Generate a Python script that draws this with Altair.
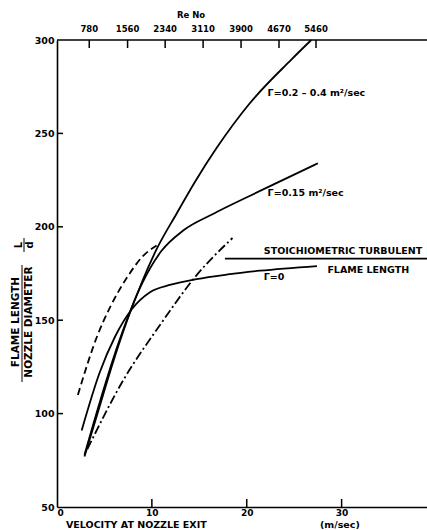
import altair as alt
import pandas as pd

# ---- data ----
g04_v = [2.9, 4.5, 6.0, 7.4, 9.0, 10.5, 12.6, 14.6, 16.8, 20.3, 24.7, 26.8]
g04_L = [77, 104, 129, 150, 171, 188, 207, 224.5, 242, 266, 289.5, 300]

g015_v = [2.9, 4.5, 6.5, 9.0, 11.0, 13.3, 16.5, 20.3, 24.0, 27.5]
g015_L = [78, 106, 138, 170, 187, 198, 207, 216.5, 225.5, 234]

g0_v = [2.6, 4.5, 6.1, 7.9, 9.8, 12.0, 14.7, 18.0, 21.4, 27.4]
g0_L = [91, 122, 141, 156, 165, 169, 172, 174.5, 176.5, 179]

dash_v = [2.2, 4.2, 5.6, 7.4, 9.0, 10.5]
dash_L = [110, 141, 157, 173, 184, 190]

dd_v = [3.2, 7.0, 10.8, 14.7, 18.5]
dd_L = [81, 118, 147, 174, 194]

stoich_v = [17.7, 39.0]
stoich_L = [183, 183]

x_ticks = [0, 10, 20, 30]
y_ticks = [50, 100, 150, 200, 250, 300]
re_labels = ["780", "1560", "2340", "3110", "3900", "4670", "5460"]
re_pos = [3.4, 7.44, 11.4, 15.4, 19.4, 23.4, 27.3]

lab_v = [22.2, 22.2, 21.8, 28.5, 21.8]
lab_L = [271.5, 218, 187, 177, 173]
lab_t = ["Γ=0.2 – 0.4 m²/sec", "Γ=0.15 m²/sec", "STOICHIOMETRIC TURBULENT", "FLAME LENGTH", "Γ=0"]

W, H = 370, 467
FONT = "DejaVu Sans"

def frame(vs, Ls, name):
    return pd.DataFrame({"v": vs, "L": Ls, "s": name})

solid = pd.concat([frame(g04_v, g04_L, "g04"), frame(g015_v, g015_L, "g015"),
                   frame(g0_v, g0_L, "g0"), frame(stoich_v, stoich_L, "st")])
dashed = frame(dash_v, dash_L, "dash")
dashdot = frame(dd_v, dd_L, "dd")

xs = alt.Scale(domain=[0, 39], nice=False, zero=False)
ys = alt.Scale(domain=[50, 300], nice=False, zero=False)

X = alt.X("v:Q", scale=xs, axis=alt.Axis(values=x_ticks, tickSize=0, labelPadding=1,
          domainColor="black", domainWidth=1.6, labelFont=FONT, labelFontSize=9,
          labelFontWeight="bold", labelColor="black", grid=False, title=None))
Y = alt.Y("L:Q", scale=ys, axis=alt.Axis(values=y_ticks, tickSize=0, labelPadding=3,
          domainColor="black", domainWidth=1.6, labelFont=FONT, labelFontSize=9.5,
          labelFontWeight="bold", labelColor="black", grid=False, title=None))

base_solid = alt.Chart(solid).mark_line(color="black", strokeWidth=1.8, interpolate="monotone").encode(
    x=X, y=Y, detail="s:N")
base_dash = alt.Chart(dashed).mark_line(color="black", strokeWidth=1.8, strokeDash=[7, 4],
                                        interpolate="monotone").encode(x="v:Q", y="L:Q")
base_dd = alt.Chart(dashdot).mark_line(color="black", strokeWidth=1.8, strokeDash=[9, 3, 2, 3],
                                       interpolate="monotone").encode(x="v:Q", y="L:Q")

# top border line
top_line = alt.Chart(pd.DataFrame({"L": [300]})).mark_rule(color="black", strokeWidth=1.6).encode(
    y="L:Q", x=alt.value(0), x2=alt.value(W))

# inward ticks
yt = alt.Chart(pd.DataFrame({"L": y_ticks[1:-1]})).mark_rule(color="black", strokeWidth=1.5).encode(
    y="L:Q", x=alt.value(0), x2=alt.value(6))
xt = alt.Chart(pd.DataFrame({"v": x_ticks[1:]})).mark_rule(color="black", strokeWidth=1.5).encode(
    x="v:Q", y=alt.value(H), y2=alt.value(H - 8))
re_df = pd.DataFrame({"v": re_pos, "t": re_labels})
rt = alt.Chart(re_df).mark_rule(color="black", strokeWidth=1.5).encode(
    x="v:Q", y=alt.value(0), y2=alt.value(8))
rl = alt.Chart(re_df).mark_text(font=FONT, fontSize=8.5, fontWeight="bold", color="black").encode(
    x="v:Q", y=alt.value(-11), text="t:N")
re_title = alt.Chart(pd.DataFrame({"t": ["Re  No"]})).mark_text(
    font=FONT, fontSize=8.5, fontWeight="bold", color="black").encode(
    x=alt.value(134), y=alt.value(-25), text="t:N")

# x title
xt1 = alt.Chart(pd.DataFrame({"t": ["VELOCITY  AT  NOZZLE  EXIT"]})).mark_text(
    font=FONT, fontSize=9.5, fontWeight="bold", color="black", align="left").encode(
    x=alt.value(9), y=alt.value(H + 17.5), text="t:N")
xt2 = alt.Chart(pd.DataFrame({"t": ["(m/sec)"]})).mark_text(
    font=FONT, fontSize=9.5, fontWeight="bold", color="black", align="left").encode(
    x=alt.value(263), y=alt.value(H + 17.5), text="t:N")

# curve labels
labels = alt.Chart(pd.DataFrame({"v": lab_v, "L": lab_L, "t": lab_t})).mark_text(
    font=FONT, fontSize=9.5, fontWeight="bold", color="black", align="left").encode(
    x="v:Q", y="L:Q", text="t:N")

# y title (stacked fraction, rotated)
yt_num = alt.Chart(pd.DataFrame({"t": ["FLAME  LENGTH"]})).mark_text(
    font=FONT, fontSize=10.5, fontWeight="bold", color="black", angle=270).encode(
    x=alt.value(-41), y=alt.value(282), text="t:N")
yt_den = alt.Chart(pd.DataFrame({"t": ["NOZZLE  DIAMETER"]})).mark_text(
    font=FONT, fontSize=10.5, fontWeight="bold", color="black", angle=270).encode(
    x=alt.value(-28), y=alt.value(282), text="t:N")
bar1 = alt.Chart(pd.DataFrame({"a": [0]})).mark_rule(color="black", strokeWidth=1).encode(
    x=alt.value(-35), y=alt.value(225), y2=alt.value(342))
ld_l = alt.Chart(pd.DataFrame({"t": ["L"]})).mark_text(
    font=FONT, fontSize=10, fontWeight="bold", color="black", angle=270).encode(
    x=alt.value(-38), y=alt.value(205), text="t:N")
ld_d = alt.Chart(pd.DataFrame({"t": ["d"]})).mark_text(
    font=FONT, fontSize=10, fontWeight="bold", color="black", angle=270).encode(
    x=alt.value(-27), y=alt.value(205), text="t:N")
bar2 = alt.Chart(pd.DataFrame({"a": [0]})).mark_rule(color="black", strokeWidth=1).encode(
    x=alt.value(-33), y=alt.value(198), y2=alt.value(212))

chart = alt.layer(base_solid, base_dash, base_dd, top_line, yt, xt, rt, rl, re_title, xt1, xt2,
                  labels, yt_num, yt_den, bar1, ld_l, ld_d, bar2).properties(
    width=W, height=H,
    autosize=alt.AutoSizeParams(type="none"),
    padding={"left": 57, "top": 40, "right": 0, "bottom": 23},
    background="white",
).configure_view(stroke=None, clip=False)

chart.save("out.html", embed_options={"renderer": "svg", "actions": False})
